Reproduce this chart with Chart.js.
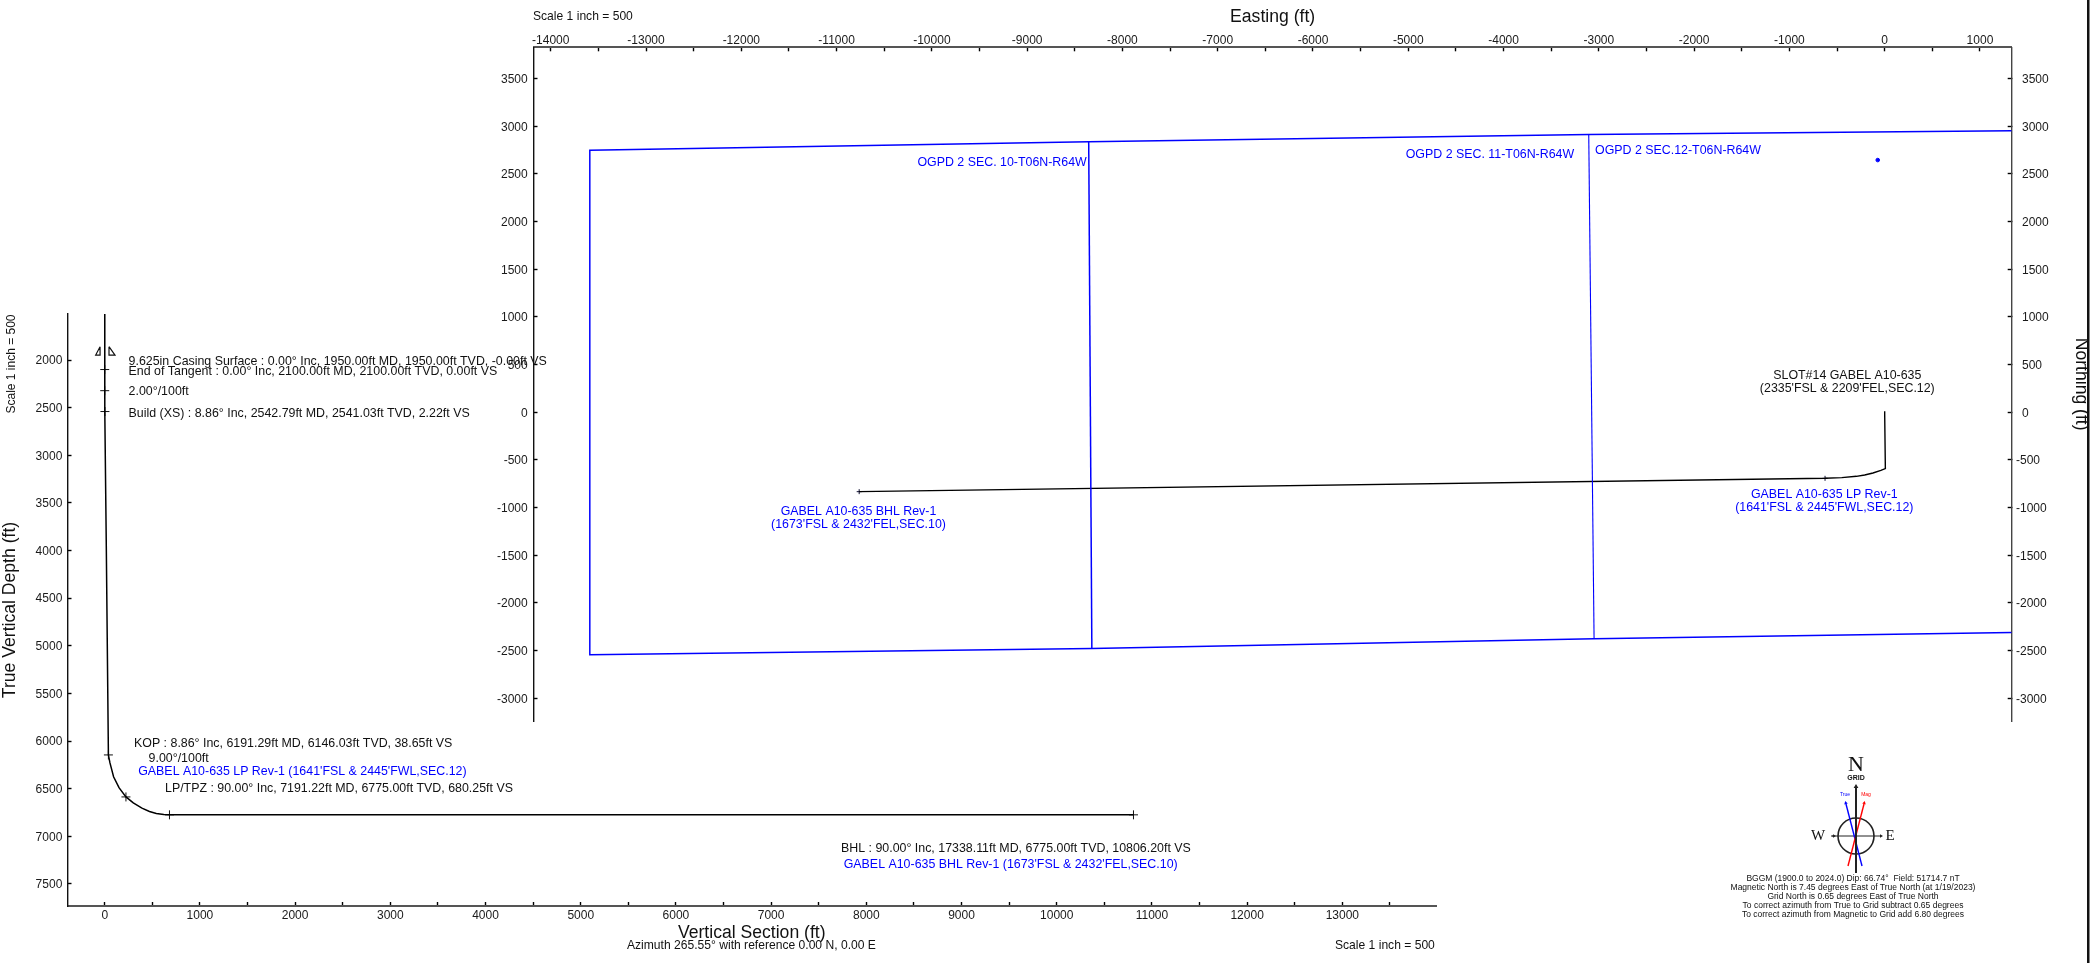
<!DOCTYPE html>
<html><head><meta charset="utf-8">
<style>html,body{margin:0;padding:0;background:#fff;overflow:hidden}
canvas{position:absolute;left:0;top:0}</style>
<script src="https://cdn.jsdelivr.net/npm/chart.js@4"></script>
</head><body>
<canvas id="plan" width="2091" height="963"></canvas>
<canvas id="section" width="2091" height="963"></canvas>
<script>
// ---- Axis tick values (ft)
const sectionXTicks = [0,500,1000,1500,2000,2500,3000,3500,4000,4500,5000,5500,6000,6500,7000,7500,8000,8500,9000,9500,10000,10500,11000,11500,12000,12500,13000,13500];
const sectionYTicks = [2000,2500,3000,3500,4000,4500,5000,5500,6000,6500,7000,7500];
const planXTicks = [-14000,-13500,-13000,-12500,-12000,-11500,-11000,-10500,-10000,-9500,-9000,-8500,-8000,-7500,-7000,-6500,-6000,-5500,-5000,-4500,-4000,-3500,-3000,-2500,-2000,-1500,-1000,-500,0,500,1000];
const planYTicks = [-3000,-2500,-2000,-1500,-1000,-500,0,500,1000,1500,2000,2500,3000,3500];
// ---- Vertical section data (ft)
const sectionVS  = [0, 0, 0, 2.22, 17, 38.65, 55, 93, 150, 223, 300, 391, 470, 542, 620, 680.25, 10806.2];
const sectionTVD = [1517, 1950, 2100, 2541, 4000, 6146, 6230, 6375, 6490, 6587, 6650, 6705, 6740, 6760, 6771, 6775, 6775];
const sectionMarkVS  = [0, 0, 2.22, 38.65, 223, 680.25, 10806.2];
const sectionMarkTVD = [2100, 2322, 2541, 6146, 6587, 6775, 6775];
const casingLeftVS   = [-49, -49, -95, -49];
const casingRightVS  = [45, 45, 108, 45];
const casingTVD      = [1860, 1948, 1948, 1860];
// ---- Plan view data (ft)
const wellE = [0, 0, 7, -40, -123, -210, -297, -450, -626, -10763];
const wellN = [8, -20, -593, -612, -639, -660, -674, -688, -695, -835];
const wellMarkE = [-626, -10763];
const wellMarkN = [-695, -835];
const leaseOuterE = [1333, -3106, -8354, -13590, -13590, -8321, -3050, 1333];
const leaseOuterN = [2951, 2913, 2836, 2746, -2546, -2480, -2378, -2312];
const line10E = [-8354, -8321];
const line10N = [2836, -2480];
const line11E = [-3106, -3050];
const line11N = [2913, -2378];
const sitePointE = [-73];
const sitePointN = [2644];

const FONT = '"Liberation Sans", Arial, sans-serif';
const BLACK = '#111', BLUE = '#0000ff';
const pts = (xs, ys) => xs.map((x, i) => ({x, y: ys[i]}));
const lineDs = (data, color, width) => ({type:'line', data, borderColor:color, backgroundColor:color,
  borderWidth:width, pointRadius:0, tension:0, fill:false});
const markDs = (data, color) => ({type:'line', data, showLine:false, pointStyle:'cross', pointRadius:4.5,
  pointBorderColor:color, pointBorderWidth:1, borderColor:color});

const sectionNotes = [
  ['9.625in Casing Surface : 0.00° Inc, 1950.00ft MD, 1950.00ft TVD, -0.00ft VS', 128.6, 362, BLACK, 12.4],
  ['End of Tangent : 0.00° Inc, 2100.00ft MD, 2100.00ft TVD, 0.00ft VS', 128.6, 372, BLACK, 12.4],
  ['2.00°/100ft', 128.6, 392, BLACK, 12.4],
  ['Build (XS) : 8.86° Inc, 2542.79ft MD, 2541.03ft TVD, 2.22ft VS', 128.6, 414, BLACK, 12.4],
  ['KOP : 8.86° Inc, 6191.29ft MD, 6146.03ft TVD, 38.65ft VS', 134, 744, BLACK, 12.4],
  ['9.00°/100ft', 148.6, 759, BLACK, 12.4],
  ["GABEL A10-635 LP Rev-1 (1641'FSL & 2445'FWL,SEC.12)", 138.2, 772, BLUE, 12.4],
  ['LP/TPZ : 90.00° Inc, 7191.22ft MD, 6775.00ft TVD, 680.25ft VS', 165, 789, BLACK, 12.4],
  ['BHL : 90.00° Inc, 17338.11ft MD, 6775.00ft TVD, 10806.20ft VS', 841, 849, BLACK, 12.4],
  ["GABEL A10-635 BHL Rev-1 (1673'FSL & 2432'FEL,SEC.10)", 843.7, 865, BLUE, 12.4],
  ['Azimuth 265.55° with reference 0.00 N, 0.00 E', 627, 946, BLACK, 12.1],
  ['Scale 1 inch = 500', 1335, 946, BLACK, 12.1],
  ['Scale 1 inch = 500', 533, 17, BLACK, 12.1],
  ['OGPD 2 SEC. 10-T06N-R64W', 917.4, 162.3, BLUE, 12.4],
  ['OGPD 2 SEC. 11-T06N-R64W', 1405.7, 155, BLUE, 12.4],
  ['OGPD 2 SEC.12-T06N-R64W', 1595, 151, BLUE, 12.4],
];
const centredNotes = [
  ['SLOT#14 GABEL A10-635', 1847.3, 376, BLACK],
  ["(2335'FSL & 2209'FEL,SEC.12)", 1847.3, 389, BLACK],
  ['GABEL A10-635 LP Rev-1', 1824.3, 495, BLUE],
  ["(1641'FSL & 2445'FWL,SEC.12)", 1824.3, 508, BLUE],
  ['GABEL A10-635 BHL Rev-1', 858.5, 512, BLUE],
  ["(1673'FSL & 2432'FEL,SEC.10)", 858.5, 525, BLUE],
];
const compassNotes = [
  'BGGM (1900.0 to 2024.0) Dip: 66.74°  Field: 51714.7 nT',
  'Magnetic North is 7.45 degrees East of True North (at 1/19/2023)',
  'Grid North is 0.65 degrees East of True North',
  'To correct azimuth from True to Grid subtract 0.65 degrees',
  'To correct azimuth from Magnetic to Grid add 6.80 degrees',
];

function arrow(ctx, x1, y1, x2, y2, color, w, head) {
  ctx.strokeStyle = color; ctx.fillStyle = color; ctx.lineWidth = w;
  ctx.beginPath(); ctx.moveTo(x1, y1); ctx.lineTo(x2, y2); ctx.stroke();
  const a = Math.atan2(y2 - y1, x2 - x1);
  ctx.beginPath(); ctx.moveTo(x2 + Math.cos(a) * head, y2 + Math.sin(a) * head);
  ctx.lineTo(x2 + Math.cos(a + 1.57) * head * .6, y2 + Math.sin(a + 1.57) * head * .6);
  ctx.lineTo(x2 + Math.cos(a - 1.57) * head * .6, y2 + Math.sin(a - 1.57) * head * .6);
  ctx.closePath(); ctx.fill();
}

const overlay = {
  id:'overlay',
  afterDraw(chart) {
    const c = chart.ctx; c.save();
    c.textBaseline = 'middle'; c.textAlign = 'left';
    sectionNotes.forEach(([t, x, y, col, fs]) => { c.font = fs + 'px ' + FONT; c.fillStyle = col; c.fillText(t, x, y); });
    c.textAlign = 'center'; c.font = '12.4px ' + FONT;
    centredNotes.forEach(([t, x, y, col]) => { c.fillStyle = col; c.fillText(t, x, y); });
    // compass
    const cx = 1856, cy = 836;
    c.strokeStyle = '#222'; c.lineWidth = 1.6;
    c.beginPath(); c.arc(cx, cy, 18, 0, Math.PI * 2); c.stroke();
    c.lineWidth = 1;
    arrow(c, 1831, cy, 1833, cy, '#222', 1, 3);
    arrow(c, cx, cy, 1880, cy, '#222', 1, 3);
    c.beginPath(); c.moveTo(1832, cy); c.lineTo(cx, cy); c.stroke();
    arrow(c, 1862, 866, 1846, 804, BLUE, 1.4, 3);
    arrow(c, 1848, 866, 1864, 804, '#ff0000', 1.4, 3);
    arrow(c, cx, 873, cx, 788, '#222', 2, 4);
    c.fillStyle = '#111'; c.font = '22px "Liberation Serif", serif'; c.fillText('N', cx, 765);
    c.font = '15px "Liberation Serif", serif';
    c.fillText('W', 1818, cy); c.fillText('E', 1890, cy);
    c.font = 'bold 7px ' + FONT; c.fillText('GRID', cx, 778);
    c.font = '5px ' + FONT;
    c.fillStyle = BLUE; c.fillText('True', 1845, 795);
    c.fillStyle = '#ff0000'; c.fillText('Mag', 1866, 795);
    c.fillStyle = '#111'; c.font = '8.5px ' + FONT;
    compassNotes.forEach((t, i) => c.fillText(t, 1853, 879 + i * 9));
    // rotated scale note
    c.save(); c.translate(12, 364); c.rotate(-Math.PI / 2); c.font = '12px ' + FONT;
    c.fillText('Scale 1 inch = 500', 0, 0); c.restore();
    // right border rule
    c.fillStyle = '#111'; c.fillRect(2087, 0, 2.5, 963);
    c.restore();
  }
};

const fix = size => s => {
  if (s.isHorizontal()) s.height = size; else s.width = size;
  s.paddingLeft = s.paddingRight = s.paddingTop = s.paddingBottom = 0;
};
const thousands = v => (v % 1000 === 0 ? String(v) : '');
const axisBase = (min, max, values, size, pad, cb, border, bw, labelOffset) => ({
  type:'linear', min, max, afterFit: fix(size),
  afterBuildTicks: s => { s.ticks = values.map(value => ({value})); },
  grid:{drawOnChartArea:false, drawTicks:true, tickLength:-4, tickColor:'#000', tickWidth:1.4},
  border:{display:true, color:border, width:bw},
  ticks:{autoSkip:false, maxRotation:0, minRotation:0, padding:pad, labelOffset,
    color:'#1a1a1a', font:{family:FONT, size:12}, callback:cb}
});
const title = (text) => ({display:true, text, color:'#111', padding:0, font:{family:FONT, size:17.6}});

new Chart(document.getElementById('plan'), {
  type:'line',
  data:{datasets:[
    Object.assign(lineDs(pts(leaseOuterE, leaseOuterN), BLUE, 1.5), {xAxisID:'x', yAxisID:'y'}),
    Object.assign(lineDs(pts(line10E, line10N), BLUE, 1.5), {xAxisID:'x', yAxisID:'y'}),
    Object.assign(lineDs(pts(line11E, line11N), BLUE, 1.1), {xAxisID:'x', yAxisID:'y'}),
    Object.assign(lineDs(pts(wellE, wellN), '#000', 1.4), {xAxisID:'x', yAxisID:'y'}),
    Object.assign(markDs(pts(wellMarkE, wellMarkN), '#113'), {xAxisID:'x', yAxisID:'y', pointRadius:2.5}),
    Object.assign(markDs(pts(sitePointE, sitePointN), BLUE), {xAxisID:'x', yAxisID:'y', pointStyle:'circle', pointRadius:1.8, pointBackgroundColor:BLUE}),
  ]},
  options:{responsive:false, animation:false, devicePixelRatio:1, parsing:false, normalized:true,
    layout:{padding:{left:480, right:0, top:6.4, bottom:242}},
    plugins:{legend:{display:false}, tooltip:{enabled:false}},
    scales:{
      x:Object.assign(axisBase(-14181, 1333, planXTicks, 40.9, 3.5, thousands, '#555', 2, 0), {position:'top', title:title('Easting (ft)')}),
      y:Object.assign(axisBase(-3241, 3827, planYTicks, 53.5, 9.8, v => String(v), '#111', 1.4, 1.4), {position:'left'}),
      yR:Object.assign(axisBase(-3241, 3827, planYTicks, 79.3, 8.3, v => (v < 0 ? String(v) : '\u2002' + v), '#444', 1.4, 1.4), {position:'right', title:title('Northing (ft)')}),
    }
  }
});

new Chart(document.getElementById('section'), {
  type:'line',
  data:{datasets:[
    lineDs(pts(sectionVS, sectionTVD), '#000', 1.5),
    markDs(pts(sectionMarkVS, sectionMarkTVD), '#111'),
    lineDs(pts(casingLeftVS, casingTVD), '#111', 1.2),
    lineDs(pts(casingRightVS, casingTVD), '#111', 1.2),
  ]},
  options:{responsive:false, animation:false, devicePixelRatio:1, parsing:false, normalized:true,
    layout:{padding:{left:0, right:655, top:314, bottom:19.4}},
    plugins:{legend:{display:false}, tooltip:{enabled:false}},
    scales:{
      x:Object.assign(axisBase(-391, 13984, sectionXTicks, 37.6, 6.5, thousands, '#555', 2, 0), {position:'bottom', title:title('Vertical Section (ft)')}),
      y:Object.assign(axisBase(1517, 7732, sectionYTicks, 67.5, 9.2, v => String(v), '#111', 1.4, 1), {position:'left', reverse:true, title:title('True Vertical Depth (ft)')}),
    }
  },
  plugins:[overlay]
});
</script>
</body></html>
